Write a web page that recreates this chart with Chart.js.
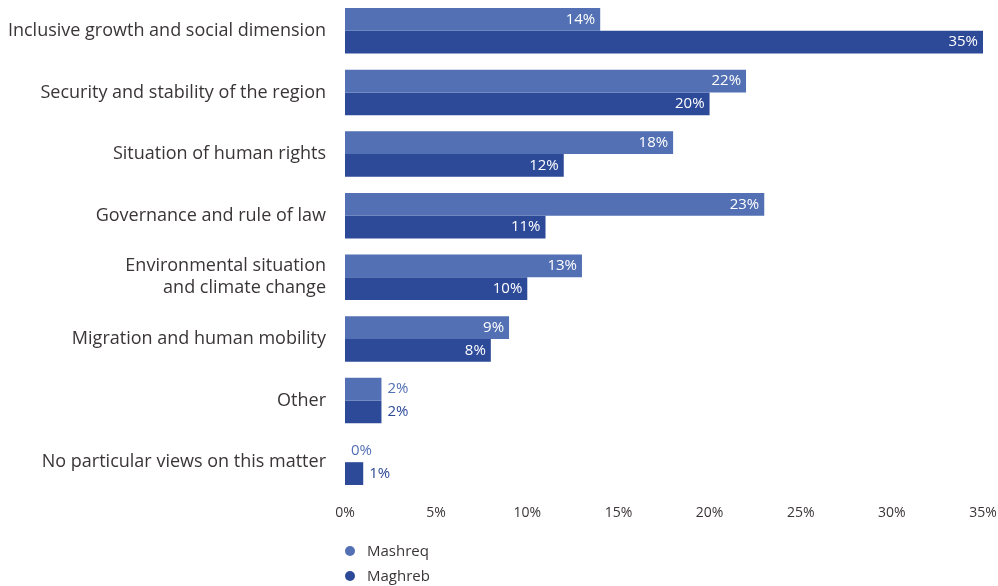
<!DOCTYPE html>
<html>
<head>
<meta charset="utf-8">
<script src="https://cdn.jsdelivr.net/npm/chart.js@4/dist/chart.umd.min.js"></script>
<style>
  html, body { margin: 0; padding: 0; background: #fff; }
  #wrap { position: relative; width: 998px; height: 586px; }
</style>
</head>
<body>
<div id="wrap"><canvas id="chart"></canvas></div>
<script>
const categories = [
  "Inclusive growth and social dimension",
  "Security and stability of the region",
  "Situation of human rights",
  "Governance and rule of law",
  ["Environmental situation", "and climate change"],
  "Migration and human mobility",
  "Other",
  "No particular views on this matter"
];
const mashreq = [14, 22, 18, 23, 13, 9, 2, 0];
const maghreb = [35, 20, 12, 11, 10, 8, 2, 1];
const tickValues = [0, 5, 10, 15, 20, 25, 30, 35];

const LIGHT = "#5270b3";
const DARK = "#2d4a98";
const TEXT = "#3a3536";
const FONT = "'Open Sans', Lato, sans-serif";

// value labels at the end of each bar
const barLabels = {
  id: "barLabels",
  afterDatasetsDraw(chart) {
    const ctx = chart.ctx;
    ctx.save();
    ctx.font = "15px " + FONT;
    ctx.textBaseline = "middle";
    chart.data.datasets.forEach(function (ds, i) {
      const meta = chart.getDatasetMeta(i);
      meta.data.forEach(function (bar, j) {
        const v = ds.data[j];
        const txt = v + "%";
        if (v >= 5) {
          ctx.fillStyle = "#ffffff";
          ctx.textAlign = "right";
          ctx.fillText(txt, bar.x - 5, bar.y);
        } else {
          ctx.fillStyle = ds.backgroundColor;
          ctx.textAlign = "left";
          ctx.fillText(txt, bar.x + 6, bar.y);
        }
      });
    });
    ctx.restore();
  }
};

// stacked legend under the axis
const stackedLegend = {
  id: "stackedLegend",
  afterDraw(chart) {
    const ctx = chart.ctx;
    ctx.save();
    ctx.font = "15px " + FONT;
    ctx.textBaseline = "middle";
    ctx.textAlign = "left";
    chart.data.datasets.forEach(function (ds, i) {
      const y = 551 + i * 25;
      ctx.fillStyle = ds.backgroundColor;
      ctx.beginPath();
      ctx.arc(350, y, 5, 0, Math.PI * 2);
      ctx.fill();
      ctx.fillStyle = TEXT;
      ctx.fillText(ds.label, 367, y + 1);
    });
    ctx.restore();
  }
};

new Chart(document.getElementById("chart"), {
  type: "bar",
  data: {
    labels: categories,
    datasets: [
      { label: "Mashreq", data: mashreq, backgroundColor: LIGHT },
      { label: "Maghreb", data: maghreb, backgroundColor: DARK }
    ]
  },
  options: {
    indexAxis: "y",
    responsive: true,
    maintainAspectRatio: false,
    animation: false,
    categoryPercentage: 0.74,
    barPercentage: 1,
    layout: { padding: { top: -2, right: 15, bottom: 63, left: 0 } },
    plugins: {
      legend: { display: false },
      tooltip: { enabled: false }
    },
    scales: {
      x: {
        min: 0,
        max: 35,
        grid: { display: false },
        border: { display: false },
        afterFit: function (scale) {
          scale.height = 30;
          scale.paddingLeft = 0;
          scale.paddingRight = 0;
        },
        afterBuildTicks: function (scale) {
          scale.ticks = tickValues.map(function (v) { return { value: v }; });
        },
        ticks: {
          padding: 4,
          color: TEXT,
          font: { family: FONT, size: 14 },
          callback: function (v) { return v + "%"; }
        }
      },
      y: {
        grid: { display: false },
        border: { display: false },
        afterFit: function (scale) {
          scale.width = 345;
          scale.paddingTop = 0;
          scale.paddingBottom = 0;
        },
        ticks: {
          padding: 11,
          color: TEXT,
          font: { family: FONT, size: 18, lineHeight: 1.22 }
        }
      }
    }
  },
  plugins: [barLabels, stackedLegend]
});
</script>
</body>
</html>
